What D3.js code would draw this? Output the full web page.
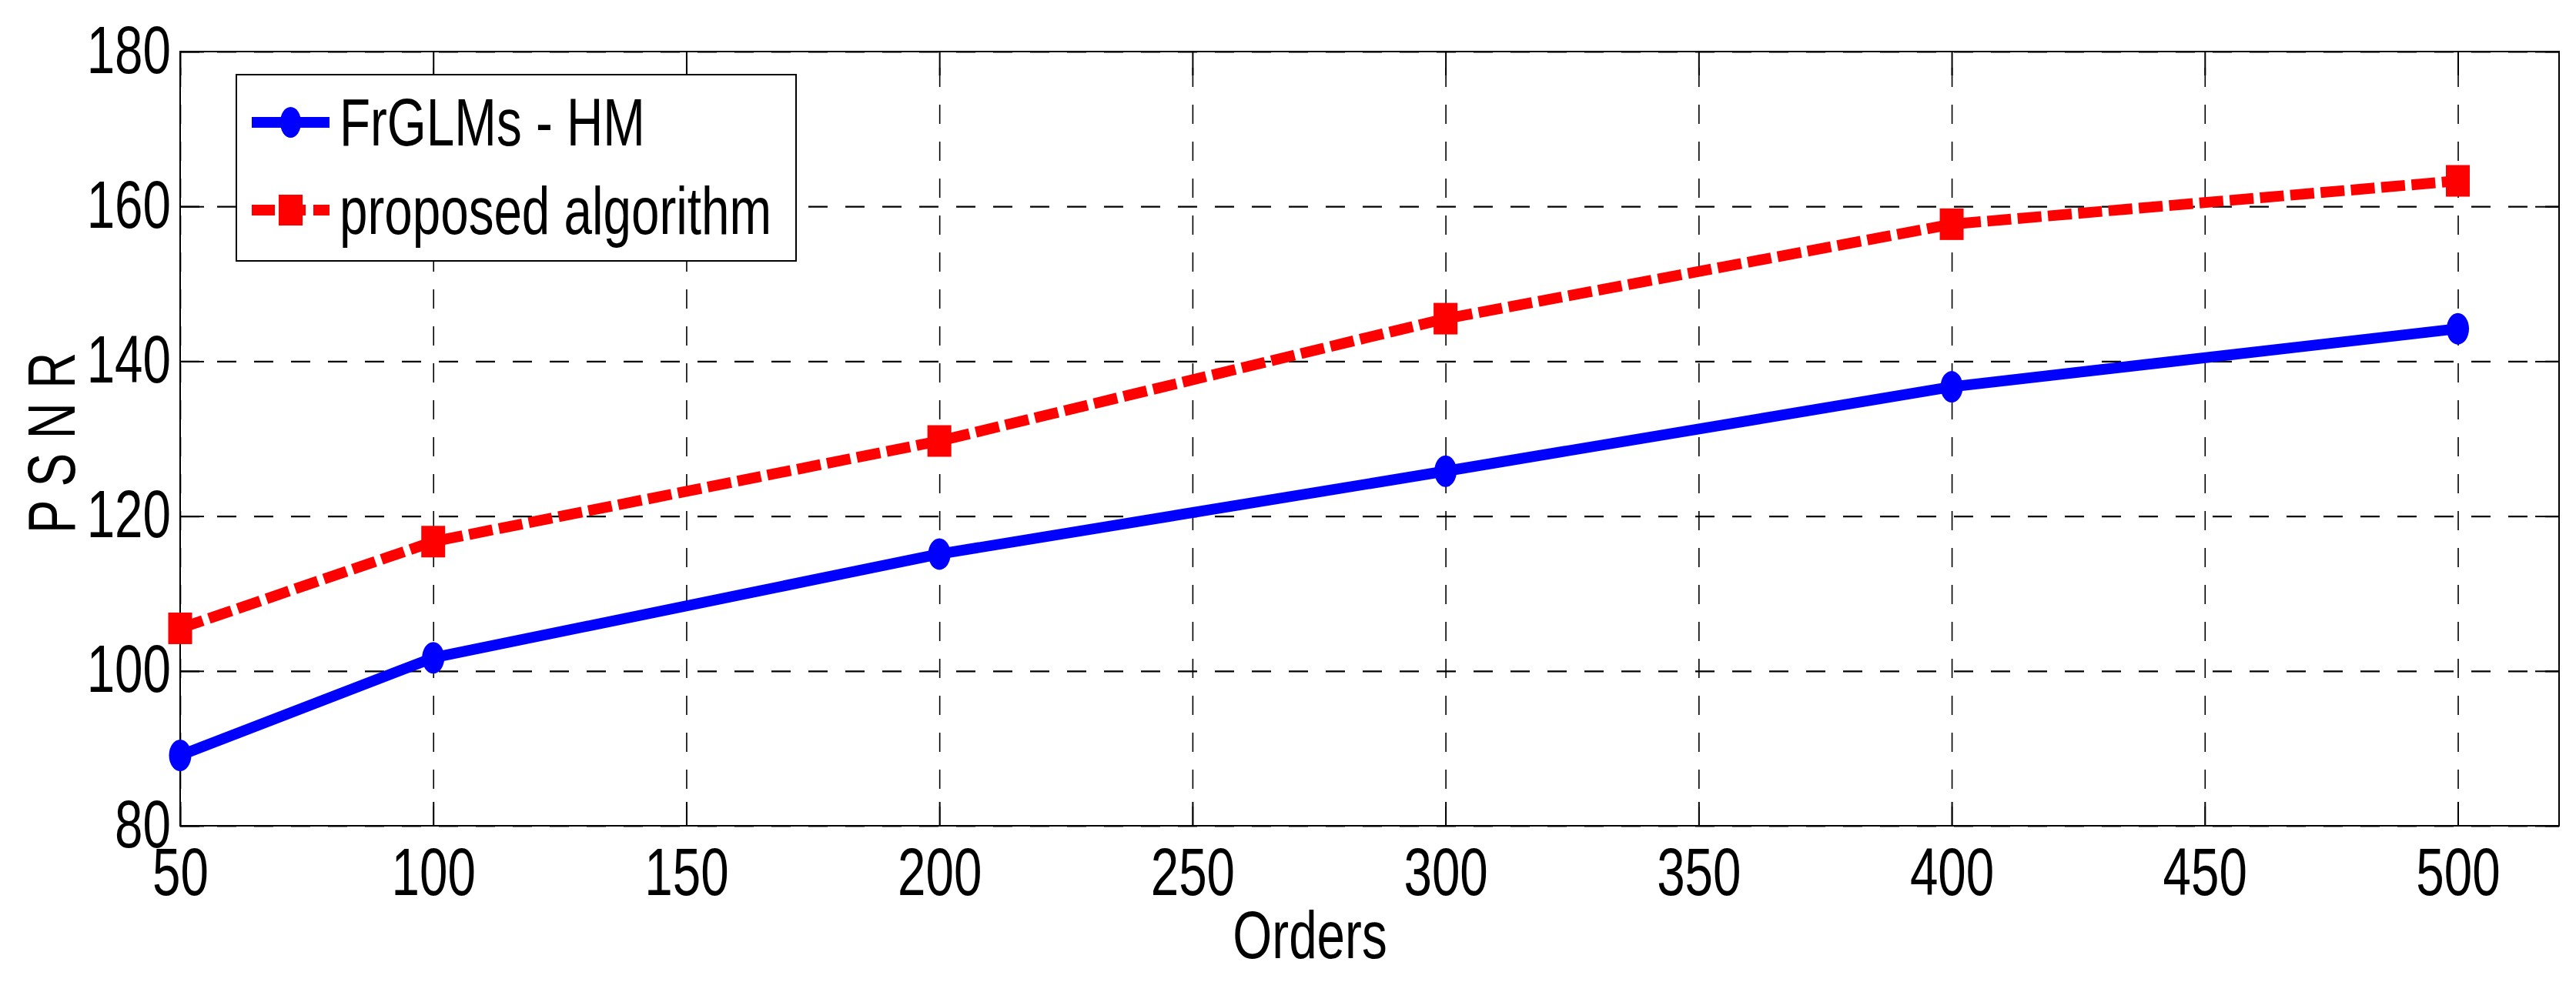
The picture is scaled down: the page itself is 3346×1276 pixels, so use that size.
<!DOCTYPE html>
<html>
<head>
<meta charset="utf-8">
<script src="https://cdn.jsdelivr.net/npm/d3@7"></script>
<style>
  body { margin: 0; background: #fff; }
  text { font-family: "Liberation Sans", Arial, sans-serif; fill: #000; }
</style>
</head>
<body>
<div id="chart"></div>
<script>
// data
var orders = [50, 100, 200, 300, 400, 500];
var frglmsHM = [89.1, 101.7, 115.1, 125.8, 136.7, 144.2];
var proposed = [105.5, 116.7, 129.7, 145.5, 157.7, 163.3];
var xTicks = [50, 100, 150, 200, 250, 300, 350, 400, 450, 500];
var yTicks = [80, 100, 120, 140, 160, 180];
var seriesNames = ["FrGLMs - HM", "proposed algorithm"];

function init() {
    var W = 3346, H = 1276;
    var margin = {left: 234, top: 67, right: 22, bottom: 203};
    var w = W - margin.left - margin.right;
    var h = H - margin.top - margin.bottom;
    var fs = 88;      // font size
    var sx = 0.745;   // narrow font look

    var x = d3.scaleLinear().domain([50, 520]).range([0, w]);
    var y = d3.scaleLinear().domain([80, 180]).range([h, 0]);

    var svg = d3.select("#chart")
        .append("svg")
        .attr("width", W)
        .attr("height", H);

    var g = svg.append("g")
        .attr("transform", "translate(" + margin.left + "," + margin.top + ")");

    // dashed grid, vertical lines start at the bottom, horizontal at the left
    g.append("g")
        .attr("transform", "translate(0," + h + ")")
        .call(d3.axisBottom(x).tickValues(xTicks).tickSize(-h).tickSizeOuter(0).tickFormat(""))
        .call(function (a) {
            a.select(".domain").remove();
            a.selectAll("line").attr("stroke", "#000").attr("stroke-width", 1.6)
                .attr("stroke-dasharray", "25,23");
        });
    g.append("g")
        .call(d3.axisLeft(y).tickValues(yTicks).tickSize(-w).tickSizeOuter(0).tickFormat(""))
        .call(function (a) {
            a.select(".domain").remove();
            a.selectAll("line").attr("stroke", "#000").attr("stroke-width", 2.2)
                .attr("stroke-dasharray", "25,23");
        });

    // inward ticks on all four sides
    var tl = 31;
    var bottomAx = g.append("g")
        .attr("transform", "translate(0," + h + ")")
        .call(d3.axisBottom(x).tickValues(xTicks).tickSize(-tl).tickSizeOuter(0));
    g.append("g")
        .call(d3.axisTop(x).tickValues(xTicks).tickSize(-tl).tickSizeOuter(0).tickFormat(""));
    var leftAx = g.append("g")
        .call(d3.axisLeft(y).tickValues(yTicks).tickSize(-tl).tickSizeOuter(0));
    g.append("g")
        .attr("transform", "translate(" + w + ",0)")
        .call(d3.axisRight(y).tickValues(yTicks).tickSize(-tl).tickSizeOuter(0).tickFormat(""));

    g.selectAll(".domain").remove();
    g.selectAll(".tick line").filter(function () { return !d3.select(this).attr("stroke-dasharray"); })
        .attr("stroke", "#000").attr("stroke-width", 2);

    bottomAx.selectAll("text")
        .attr("y", 90).attr("dy", null)
        .attr("font-size", fs)
        .attr("font-family", null)
        .attr("transform", "scale(" + sx + ",1)");
    leftAx.selectAll("text")
        .attr("x", -12 / sx).attr("dy", null).attr("y", 27)
        .attr("font-size", fs)
        .attr("font-family", null)
        .attr("transform", "scale(" + sx + ",1)");

    // axes box
    g.append("rect")
        .attr("width", w).attr("height", h)
        .attr("fill", "none").attr("stroke", "#000").attr("stroke-width", 2);

    // series lines
    var line = d3.line()
        .x(function (d) { return x(d[0]); })
        .y(function (d) { return y(d[1]); });

    var blueData = orders.map(function (o, i) { return [o, frglmsHM[i]]; });
    var redData = orders.map(function (o, i) { return [o, proposed[i]]; });

    g.append("path")
        .datum(blueData)
        .attr("d", line)
        .attr("fill", "none")
        .attr("stroke", "#0000ff")
        .attr("stroke-width", 14)
        .attr("stroke-linejoin", "round");

    g.append("path")
        .datum(redData)
        .attr("d", line)
        .attr("fill", "none")
        .attr("stroke", "#ff0000")
        .attr("stroke-width", 14)
        .attr("stroke-dasharray", "31,8.5");

    g.selectAll("ellipse.pt")
        .data(blueData)
        .enter()
        .append("ellipse")
        .attr("class", "pt")
        .attr("cx", function (d) { return x(d[0]); })
        .attr("cy", function (d) { return y(d[1]); })
        .attr("rx", 14.5).attr("ry", 20.5)
        .attr("fill", "#0000ff");

    g.selectAll("rect.pt")
        .data(redData)
        .enter()
        .append("rect")
        .attr("class", "pt")
        .attr("x", function (d) { return x(d[0]) - 15.5; })
        .attr("y", function (d) { return y(d[1]) - 20.5; })
        .attr("width", 31).attr("height", 41)
        .attr("fill", "#ff0000");

    // axis labels
    svg.append("text")
        .attr("text-anchor", "middle")
        .attr("font-size", fs)
        .attr("transform", "translate(1701.5,1245) scale(" + sx + ",1)")
        .text("Orders");

    svg.append("text")
        .attr("text-anchor", "middle")
        .attr("font-size", fs)
        .attr("transform", "translate(97,575.5) rotate(-90) scale(" + sx + ",1)")
        .text("P S N R");

    // legend
    var lg = svg.append("g");
    lg.append("rect")
        .attr("x", 307).attr("y", 97)
        .attr("width", 727).attr("height", 242)
        .attr("fill", "#fff").attr("stroke", "#000").attr("stroke-width", 2);

    lg.append("line")
        .attr("x1", 327).attr("x2", 428).attr("y1", 159).attr("y2", 159)
        .attr("stroke", "#0000ff").attr("stroke-width", 14);
    lg.append("ellipse")
        .attr("cx", 377.5).attr("cy", 159).attr("rx", 13.5).attr("ry", 20)
        .attr("fill", "#0000ff");
    lg.append("text")
        .attr("font-size", fs)
        .attr("transform", "translate(441,189) scale(" + sx + ",1)")
        .text(seriesNames[0]);

    lg.append("line")
        .attr("x1", 327).attr("x2", 428).attr("y1", 273).attr("y2", 273)
        .attr("stroke", "#ff0000").attr("stroke-width", 14)
        .attr("stroke-dasharray", "30,10");
    lg.append("rect")
        .attr("x", 362).attr("y", 253).attr("width", 31).attr("height", 40)
        .attr("fill", "#ff0000");
    lg.append("text")
        .attr("font-size", fs)
        .attr("transform", "translate(441,304) scale(" + sx + ",1)")
        .text(seriesNames[1]);
}

window.onload = init;
</script>
</body>
</html>
